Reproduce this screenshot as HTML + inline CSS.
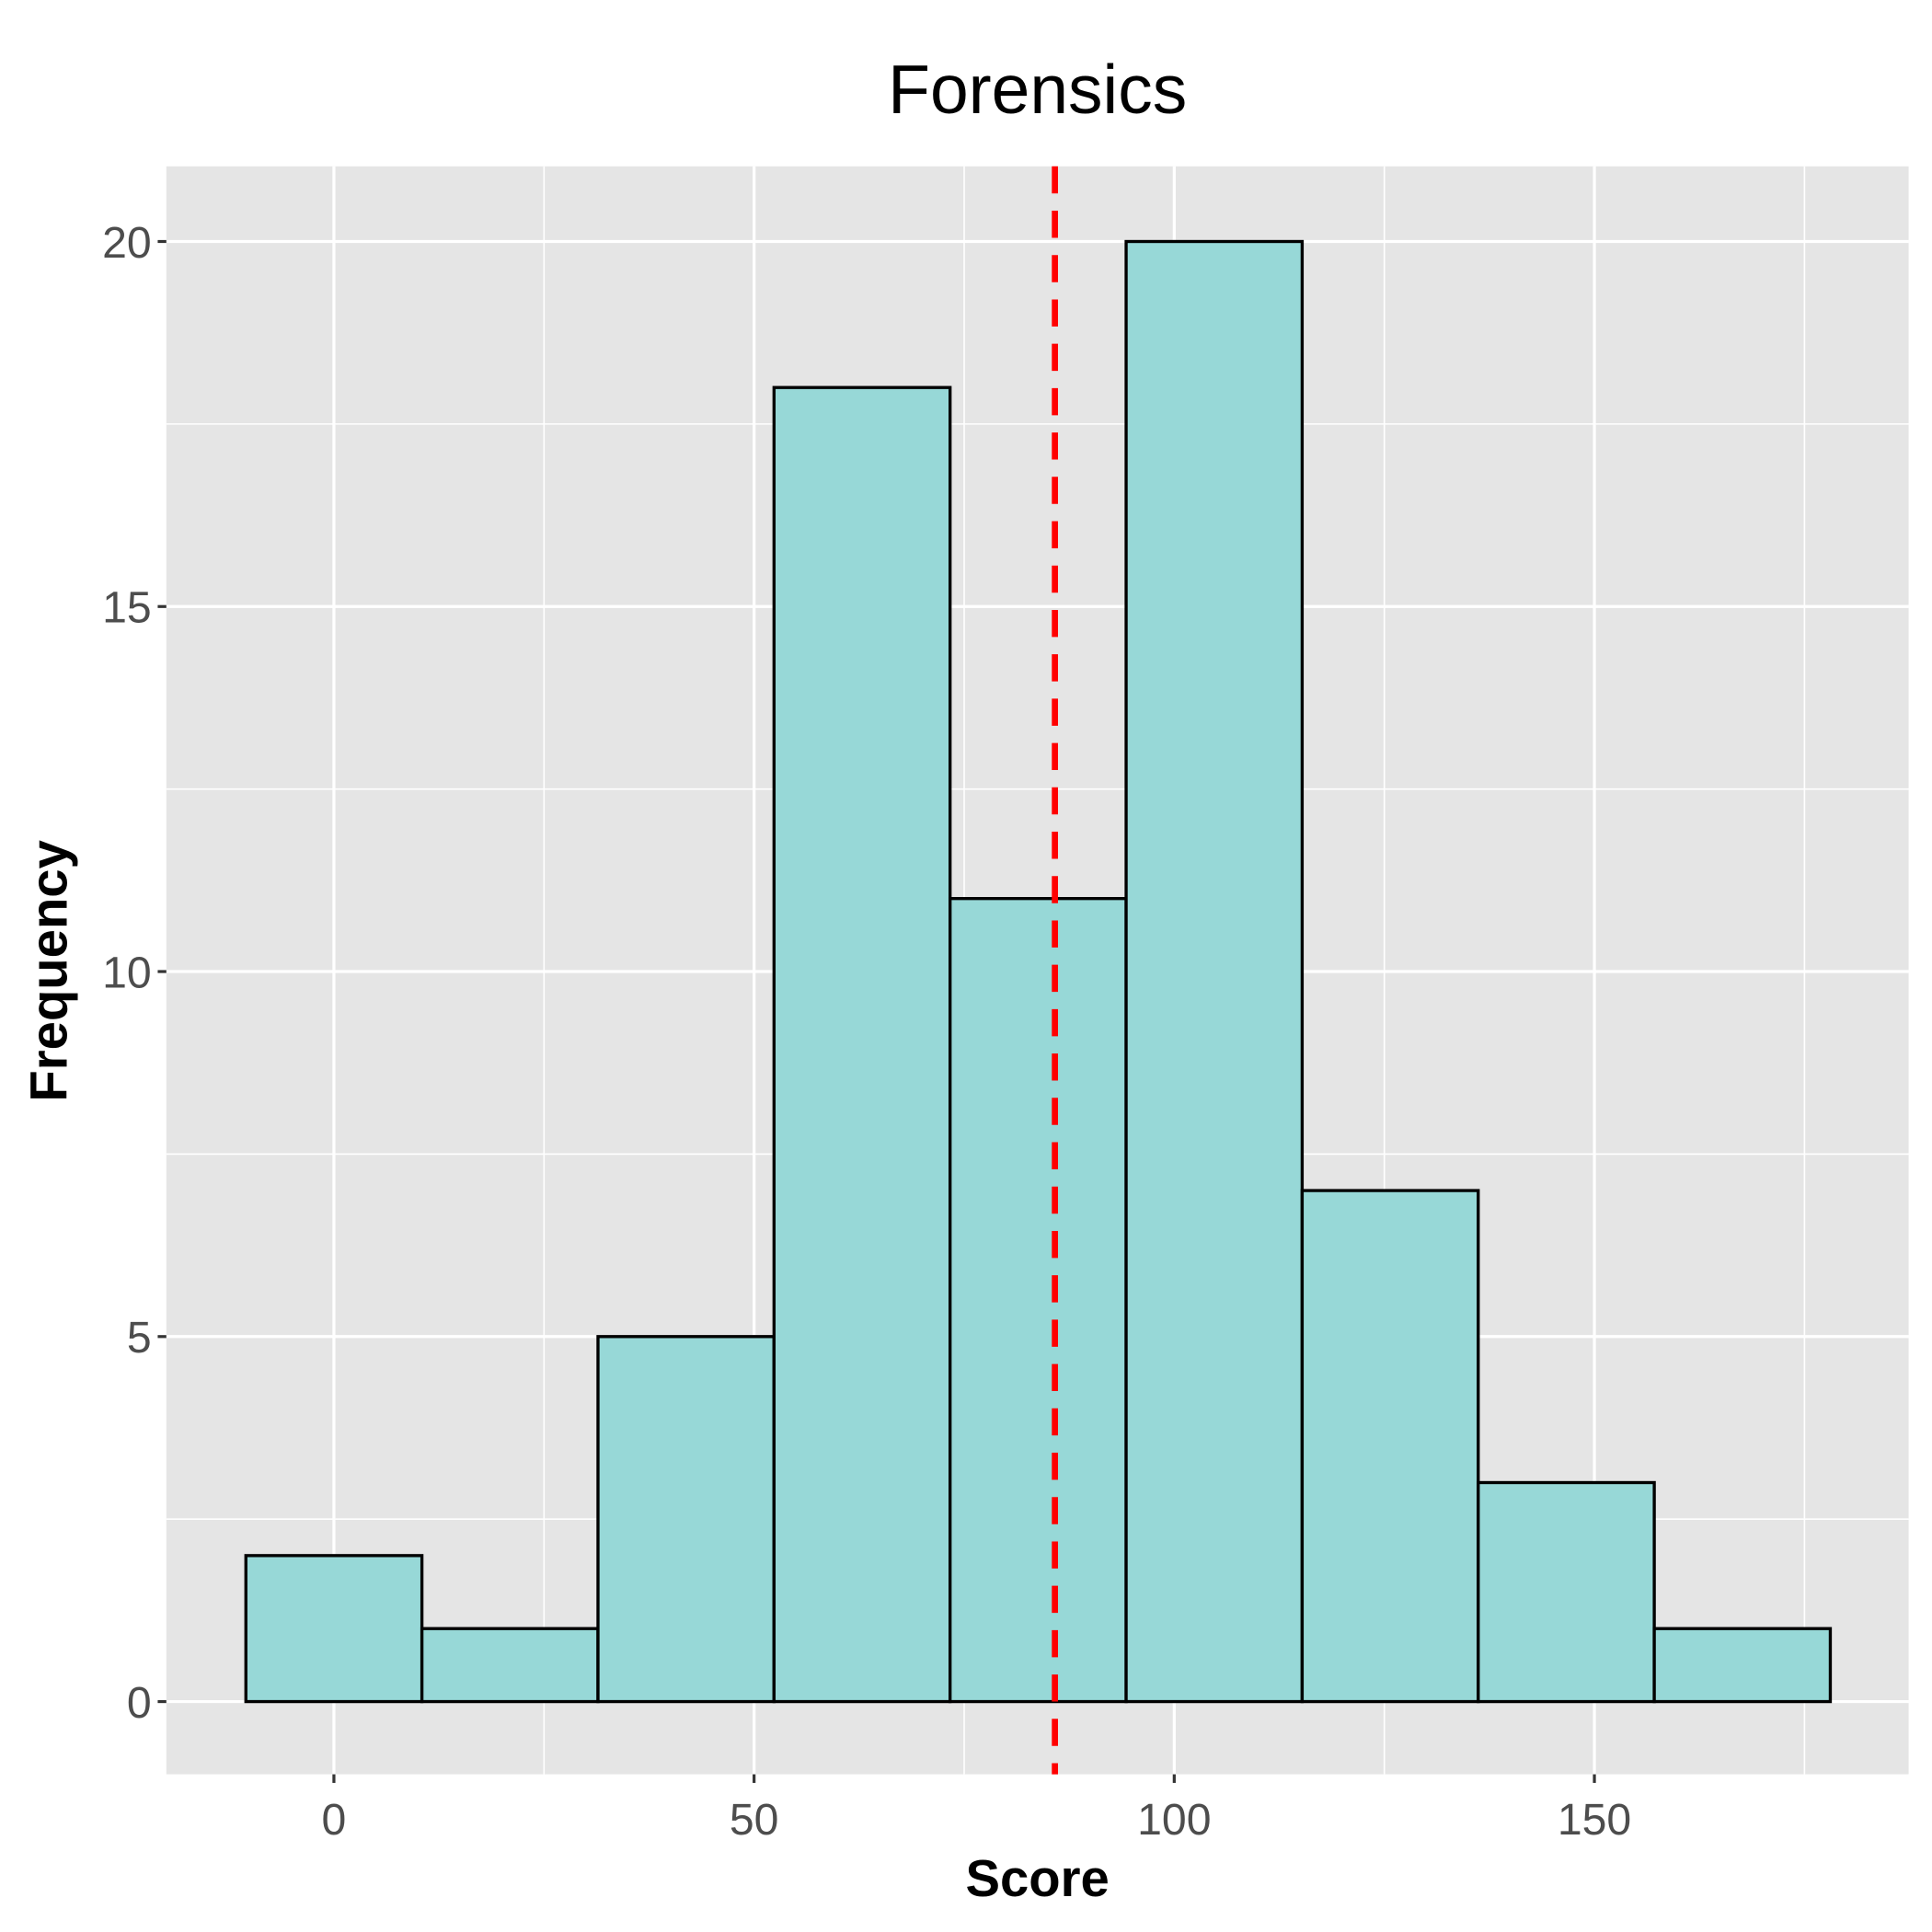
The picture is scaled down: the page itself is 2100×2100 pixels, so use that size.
<!DOCTYPE html>
<html><head><meta charset="utf-8"><style>html,body{margin:0;padding:0;background:#fff}svg{display:block}</style></head>
<body>
<svg id="chart" width="2100" height="2100" viewBox="0 0 1568 1568" xmlns="http://www.w3.org/2000/svg" font-family="Liberation Sans, Arial, sans-serif"></svg>
<script>
const binCenters = [0, 20.95, 41.9, 62.85, 83.8, 104.75, 125.7, 146.65, 167.6];
const counts = [2, 1, 5, 18, 11, 20, 7, 3, 1];
const binWidth = 20.95;
const meanValue = 85.8;
const xTicks = [0, 50, 100, 150];
const yTicks = [0, 5, 10, 15, 20];
const xMinor = [25, 75, 125, 175];
const yMinor = [2.5, 7.5, 12.5, 17.5];

const P = {l:135, r:1549, t:135, b:1440};
const xs = v => 271 + v * (1294 - 271) / 150;
const ys = v => 1381 - v * (1381 - 196) / 20;
const svg = document.getElementById('chart');
const NS = 'http://www.w3.org/2000/svg';
function mk(tag, attrs, parent) {
  const e = document.createElementNS(NS, tag);
  for (const k in attrs) e.setAttribute(k, attrs[k]);
  (parent || svg).appendChild(e);
  return e;
}
const panel = mk('rect', {x:P.l, y:P.t, width:P.r-P.l, height:P.b-P.t, fill:'#e5e5e5'});


xMinor.forEach(v => { const l = mk('line', {x1:xs(v), x2:xs(v), y1:P.t, y2:P.b, stroke:'#fff', 'stroke-width':1.2});
    });
yMinor.forEach(v => { const l = mk('line', {y1:ys(v), y2:ys(v), x1:P.l, x2:P.r, stroke:'#fff', 'stroke-width':1.2});
    });
xTicks.forEach(v => {
  const l = mk('line', {x1:xs(v), x2:xs(v), y1:P.t, y2:P.b, stroke:'#fff', 'stroke-width':2.4});
   
  const t = mk('line', {x1:xs(v), x2:xs(v), y1:P.b, y2:P.b+7, stroke:'#333', 'stroke-width':2.4});
   
  const tx = mk('text', {x:xs(v), y:1489, 'text-anchor':'middle', 'font-size':36, fill:'#4d4d4d'});
  tx.textContent = v;
   
});
yTicks.forEach(v => {
  const l = mk('line', {y1:ys(v), y2:ys(v), x1:P.l, x2:P.r, stroke:'#fff', 'stroke-width':2.4});
   
  const t = mk('line', {y1:ys(v), y2:ys(v), x1:P.l-7, x2:P.l, stroke:'#333', 'stroke-width':2.4});
   
  const tx = mk('text', {x:P.l-12, y:ys(v)+13, 'text-anchor':'end', 'font-size':36, fill:'#4d4d4d'});
  tx.textContent = v;
   
});
binCenters.forEach((c, i) => {
  const x0 = xs(c - binWidth/2), x1 = xs(c + binWidth/2);
  const r = mk('rect', {x:x0, y:ys(counts[i]), width:x1-x0, height:ys(0)-ys(counts[i]), fill:'#97d8d7', stroke:'#000', 'stroke-width':2.5});
  
  
});
const ml = mk('line', {x1:xs(meanValue), x2:xs(meanValue), y1:P.t, y2:P.b, stroke:'#ff0000', 'stroke-width':5, 'stroke-dasharray':'22 14'});


const title = mk('text', {x:842, y:92, 'text-anchor':'middle', 'font-size':56, fill:'#000'});
title.textContent = 'Forensics';


const xt = mk('text', {x:842, y:1539, 'text-anchor':'middle', 'font-size':42, 'font-weight':'bold', fill:'#000'});
xt.textContent = 'Score';


const yt = mk('text', {x:0, y:0, 'text-anchor':'middle', 'font-size':42, 'font-weight':'bold', fill:'#000', transform:'translate(54,788) rotate(-90)'});
yt.textContent = 'Frequency';


</script>
</body></html>
